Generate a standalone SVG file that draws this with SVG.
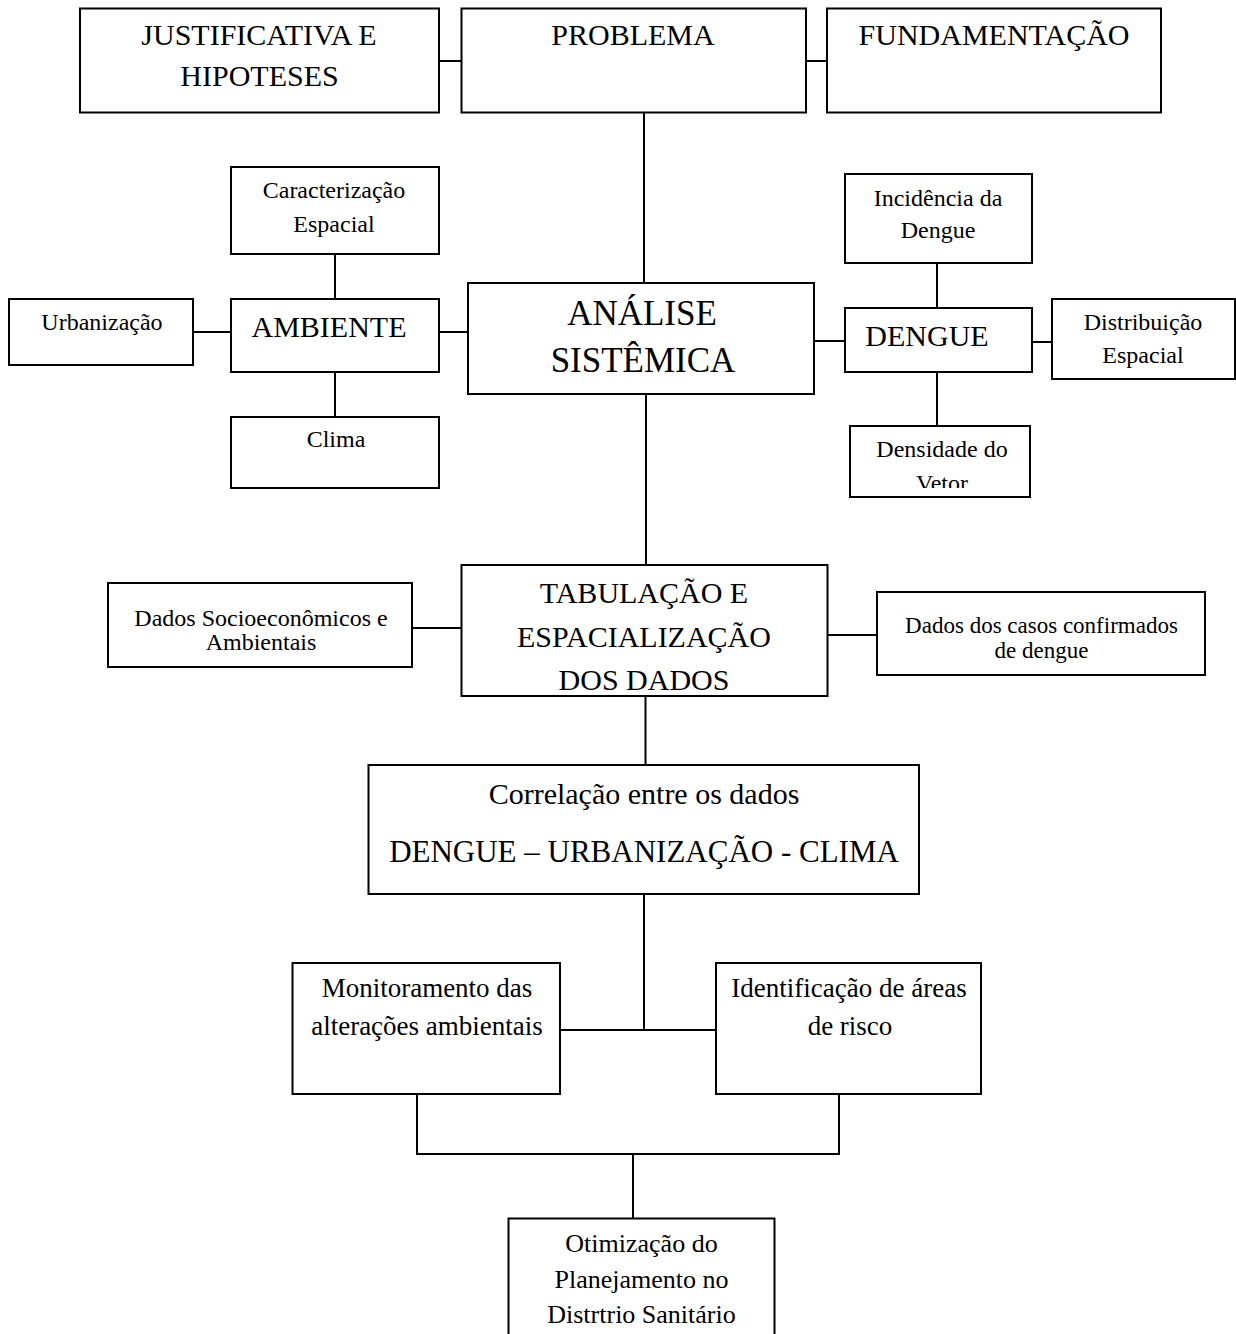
<svg xmlns="http://www.w3.org/2000/svg" width="1236" height="1334" viewBox="0 0 1236 1334">
<style>
.box{fill:#fff;stroke:#000;stroke-width:2}
.ln{fill:none;stroke:#000;stroke-width:2}
text{font-family:"Liberation Serif","Times New Roman",serif;fill:#000;text-anchor:middle}
.t30{font-size:30px}.t31{font-size:31px}.t35{font-size:35px}.t24{font-size:24px}.t23{font-size:23px}.t26{font-size:26px}.t27{font-size:27px}
</style>
<defs>
<clipPath id="clipVetor"><rect x="850" y="426" width="180" height="62"/></clipPath>
</defs>
<rect width="1236" height="1334" fill="#fff"/>
<g id="connectors" class="ln">
<path d="M439 61H461.5"/>
<path d="M806 61H827"/>
<path d="M644 112.5V283"/>
<path d="M193 332H231"/>
<path d="M335 254V299"/>
<path d="M335 372V417"/>
<path d="M439 332H468"/>
<path d="M814 341H845"/>
<path d="M937 263V308"/>
<path d="M937 372V426"/>
<path d="M1032 342H1052"/>
<path d="M646 394V565"/>
<path d="M412 628H461.5"/>
<path d="M827.5 635H877"/>
<path d="M645.5 696V765"/>
<path d="M644 894V1030"/>
<path d="M560 1030H716"/>
<path d="M417 1094V1154H839V1094"/>
<path d="M633 1154V1219"/>
</g>
<g id="justificativa"><rect class="box" x="80" y="8.5" width="359" height="104"/><text class="t30" x="259" y="45">JUSTIFICATIVA E</text><text class="t30" x="259.5" y="86">HIPOTESES</text></g>
<g id="problema"><rect class="box" x="461.5" y="8.5" width="344.5" height="104"/><text class="t30" x="633" y="45">PROBLEMA</text></g>
<g id="fundamentacao"><rect class="box" x="827" y="8.5" width="334" height="104"/><text class="t30" x="994" y="45">FUNDAMENTAÇÃO</text></g>
<g id="caracterizacao"><rect class="box" x="231" y="167" width="208" height="87"/><text class="t24" x="334" y="198">Caracterização</text><text class="t24" x="334" y="232">Espacial</text></g>
<g id="urbanizacao"><rect class="box" x="9" y="299" width="184" height="66"/><text class="t24" x="102" y="330">Urbanização</text></g>
<g id="ambiente"><rect class="box" x="231" y="299" width="208" height="73"/><text class="t30" x="329" y="337">AMBIENTE</text></g>
<g id="clima"><rect class="box" x="231" y="417" width="208" height="71"/><text class="t24" x="336" y="447">Clima</text></g>
<g id="analise"><rect class="box" x="468" y="283" width="346" height="111"/><text class="t35" x="642" y="325">ANÁLISE</text><text class="t35" x="643" y="372">SISTÊMICA</text></g>
<g id="incidencia"><rect class="box" x="845" y="174" width="187" height="89"/><text class="t24" x="938" y="206">Incidência da</text><text class="t24" x="938" y="238">Dengue</text></g>
<g id="dengue"><rect class="box" x="845" y="308" width="187" height="64"/><text class="t30" x="927" y="346">DENGUE</text></g>
<g id="distribuicao"><rect class="box" x="1052" y="299" width="183" height="80"/><text class="t24" x="1143" y="330">Distribuição</text><text class="t24" x="1143" y="363">Espacial</text></g>
<g id="densidade"><rect class="box" x="850" y="426" width="180" height="71"/><text class="t24" x="942" y="457">Densidade do</text><text class="t24" x="942" y="491" clip-path="url(#clipVetor)">Vetor</text></g>
<g id="tabulacao"><rect class="box" x="461.5" y="565" width="366" height="131"/><text class="t30" x="644" y="603">TABULAÇÃO E</text><text class="t30" x="644" y="647">ESPACIALIZAÇÃO</text><text class="t30" x="644" y="690">DOS DADOS</text></g>
<g id="dados-socio"><rect class="box" x="108" y="583" width="304" height="84"/><text class="t24" x="261" y="626">Dados Socioeconômicos e</text><text class="t24" x="261" y="650">Ambientais</text></g>
<g id="dados-casos"><rect class="box" x="877" y="592" width="328" height="83"/><text class="t23" x="1041.5" y="633">Dados dos casos confirmados</text><text class="t23" x="1041.5" y="658">de dengue</text></g>
<g id="correlacao"><rect class="box" x="368.5" y="765" width="550.5" height="129"/><text class="t30" x="644" y="804">Correlação entre os dados</text><text class="t31" x="644" y="862">DENGUE – URBANIZAÇÃO - CLIMA</text></g>
<g id="monitoramento"><rect class="box" x="292.5" y="963" width="267.5" height="131"/><text class="t27" x="427" y="997">Monitoramento das</text><text class="t27" x="427" y="1035">alterações ambientais</text></g>
<g id="identificacao"><rect class="box" x="716" y="963" width="265" height="131"/><text class="t27" x="849" y="997">Identificação de áreas</text><text class="t27" x="850" y="1035">de risco</text></g>
<g id="otimizacao"><rect class="box" x="508.5" y="1218.5" width="266" height="130"/><text class="t26" x="641.5" y="1252">Otimização do</text><text class="t26" x="641.5" y="1288">Planejamento no</text><text class="t26" x="641.5" y="1323">Distrtrio Sanitário</text></g>
</svg>
